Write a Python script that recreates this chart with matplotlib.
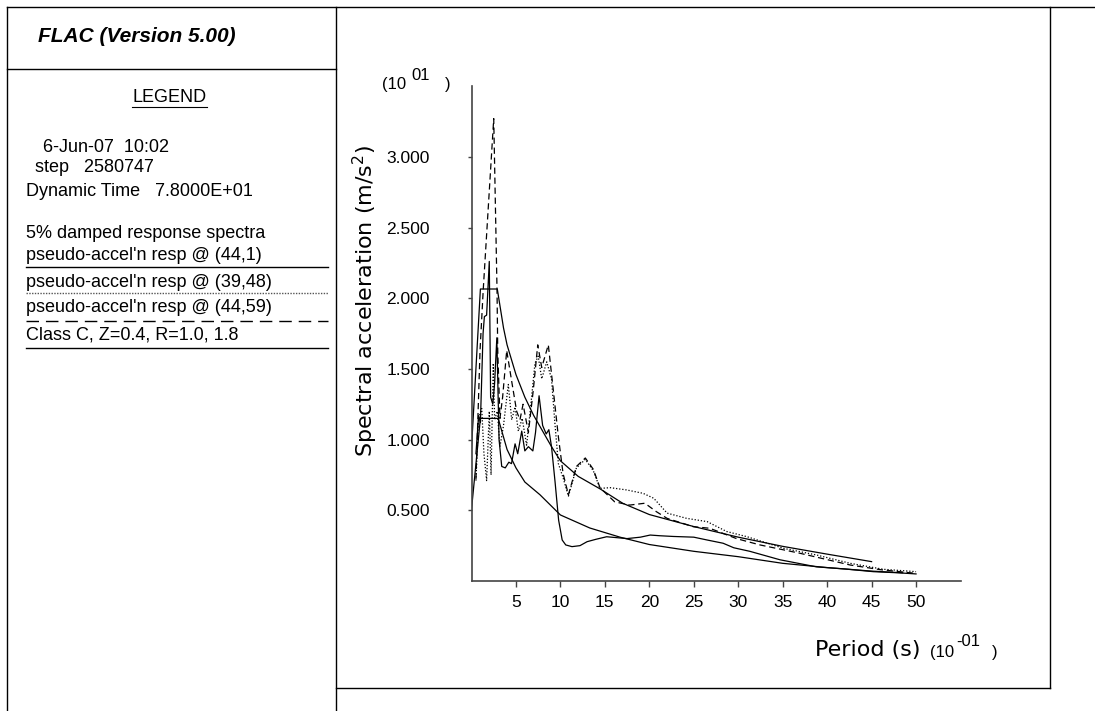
import numpy as np
import matplotlib
matplotlib.use("Agg")
import matplotlib.pyplot as plt
from matplotlib.lines import Line2D

W, H = 1095, 711

# ---- data (period in 1e-1 s, acceleration in 1e1 m/s^2) ----
# design spectra, Class C, Z=0.4
des_hi_x = [0, 1.0, 2.9, 3.6, 4.0, 5.0, 6.0, 7.0, 8.0, 9.0, 10.0, 12.0, 14.5, 17.0, 20.0, 25.0, 30.0, 35.0, 40.0, 45.0]
des_hi_y = [0.94, 2.065, 2.065, 1.79, 1.67, 1.46, 1.30, 1.17, 1.06, 0.95, 0.85, 0.74, 0.65, 0.55, 0.47, 0.385, 0.31, 0.245, 0.19, 0.137]
des_lo_x = [0, 1.0, 3.0, 4.0, 5.0, 6.0, 7.7, 10.0, 13.3, 16.7, 20.0, 25.0, 30.0, 35.0, 40.0, 45.0, 48.5]
des_lo_y = [0.507, 1.15, 1.15, 0.93, 0.80, 0.70, 0.61, 0.467, 0.375, 0.31, 0.258, 0.21, 0.172, 0.125, 0.095, 0.07, 0.058]

# pseudo-accel'n resp @ (44,1)
r1_x = [0.5, 0.8, 1.0, 1.3, 1.45, 1.7, 1.85, 2.0, 2.15, 2.4, 2.6, 2.85, 3.1, 3.4, 3.8, 4.2, 4.5, 4.9, 5.2,
        5.65, 6.0, 6.4, 6.9, 7.2, 7.6, 8.0, 8.4, 8.7, 9.0, 9.4, 9.8, 10.2, 10.6, 11.3, 12.2, 13.0, 14.0,
        15.2, 17.5, 19.0, 20.1, 21.2, 22.7, 25.0, 26.5, 28.3, 29.5, 31.3, 34.7, 38.8, 42.0, 45.2, 48.0, 50.0]
r1_y = [0.9, 1.17, 1.12, 1.75, 1.87, 1.88, 2.07, 2.26, 1.3, 1.25, 1.4, 1.72, 1.0, 0.81, 0.80, 0.84, 0.83, 0.97, 0.9,
        1.06, 0.92, 0.95, 0.92, 1.05, 1.31, 1.1, 1.04, 1.07, 0.95, 0.7, 0.43, 0.29, 0.255, 0.243, 0.25, 0.278, 0.295,
        0.313, 0.30, 0.31, 0.325, 0.32, 0.315, 0.31, 0.29, 0.267, 0.235, 0.21, 0.15, 0.10, 0.085, 0.066, 0.058, 0.05]

# pseudo-accel'n resp @ (39,48)
r2_x = [0.5, 0.8, 1.15, 1.4, 1.7, 2.0, 2.2, 2.45, 2.6, 2.9, 3.2, 3.6, 4.14, 4.52, 4.9, 5.27, 5.7, 6.2, 6.6,
        7.14, 7.5, 7.9, 8.46, 9.0, 9.4, 9.77, 10.3, 10.9, 11.8, 12.8, 13.7, 14.45, 15.6, 17.45, 19.3, 20.5,
        22.0, 24.2, 26.5, 28.7, 31.0, 35.1, 38.8, 42.6, 46.3, 50.0]
r2_y = [0.71, 1.15, 1.22, 0.9, 0.71, 1.2, 0.75, 1.54, 1.14, 1.2, 0.95, 1.1, 1.39, 1.14, 1.23, 1.06, 1.15, 0.96, 1.2,
        1.54, 1.59, 1.43, 1.55, 1.43, 1.1, 0.83, 0.73, 0.6, 0.8, 0.86, 0.78, 0.655, 0.66, 0.644, 0.62, 0.585,
        0.48, 0.443, 0.42, 0.35, 0.313, 0.231, 0.184, 0.125, 0.083, 0.066]

# pseudo-accel'n resp @ (44,59)
r3_x = [0.5, 0.96, 1.32, 2.5, 2.87, 2.95, 3.2, 3.5, 3.96, 4.5, 5.08, 5.45, 5.8, 6.4, 6.95, 7.45, 7.9, 8.64,
        9.2, 9.77, 10.3, 10.9, 11.8, 12.8, 13.7, 14.45, 16.1, 17.8, 19.5, 20.8, 22.0, 24.95, 26.8, 29.8,
        32.45, 36.95, 42.6, 46.0, 50.0]
r3_y = [0.72, 1.63, 2.06, 3.27, 2.06, 1.63, 1.15, 1.3, 1.63, 1.42, 1.2, 1.14, 1.25, 1.05, 1.35, 1.67, 1.51, 1.67,
        1.35, 1.02, 0.76, 0.61, 0.81, 0.87, 0.79, 0.66, 0.56, 0.537, 0.55, 0.49, 0.443, 0.384, 0.373, 0.30,
        0.255, 0.196, 0.113, 0.08, 0.054]

legend_head = ["6-Jun-07  10:02", "step   2580747", "Dynamic Time   7.8000E+01", "5% damped response spectra"]
legend_rows = ["pseudo-accel'n resp @ (44,1)", "pseudo-accel'n resp @ (39,48)",
               "pseudo-accel'n resp @ (44,59)", "Class C, Z=0.4, R=1.0, 1.8"]

x_ticks = [5, 10, 15, 20, 25, 30, 35, 40, 45, 50]
y_ticks = [0.5, 1.0, 1.5, 2.0, 2.5, 3.0]

ARIAL = "Liberation Sans"
VERD = "DejaVu Sans"


def fx(x):
    return x / W


def fy(y):
    return 1 - y / H


def hline(fig, x0, x1, y, **kw):
    fig.add_artist(Line2D([fx(x0), fx(x1)], [fy(y), fy(y)], transform=fig.transFigure, color="black", **kw))


def vline(fig, x, y0, y1, **kw):
    fig.add_artist(Line2D([fx(x), fx(x)], [fy(y0), fy(y1)], transform=fig.transFigure, color="black", **kw))


fig = plt.figure(figsize=(W / 100, H / 100), dpi=100)

# frames
hline(fig, 7, W, 7, lw=1.0)
vline(fig, 7, 7, H, lw=1.0)
vline(fig, 336, 7, H, lw=1.0)
hline(fig, 7, 336, 69, lw=1.0)
vline(fig, 1050, 7, 688, lw=1.0)
hline(fig, 336, 1050, 688, lw=1.0)

# left panel
fig.text(fx(38), fy(36), "FLAC (Version 5.00)", family=ARIAL, fontsize=15, fontweight="bold",
         fontstyle="italic", ha="left", va="center")
fig.text(fx(170), fy(98), "LEGEND", family=ARIAL, fontsize=13, ha="center", va="center")
hline(fig, 132, 207, 107, lw=0.8)

fig.text(fx(43), fy(147), legend_head[0], family=ARIAL, fontsize=13, va="center")
fig.text(fx(35), fy(168), legend_head[1], family=ARIAL, fontsize=13, va="center")
fig.text(fx(26), fy(192), legend_head[2], family=ARIAL, fontsize=13, va="center")
fig.text(fx(26), fy(234), legend_head[3], family=ARIAL, fontsize=13, va="center")

row_y = [256, 282, 307, 335]
line_y = [267, 293, 321, 348]
styles = [dict(ls="-"), dict(ls=(0, (1, 1)), color="#555555"), dict(ls=(0, (9, 5))), dict(ls="-")]
for lab, ty, ly, st in zip(legend_rows, row_y, line_y, styles):
    fig.text(fx(26), fy(ty), lab, family=ARIAL, fontsize=13, va="center")
    kw = dict(lw=1.0)
    kw.update(st)
    col = kw.pop("color", "black")
    fig.add_artist(Line2D([fx(26), fx(328)], [fy(ly), fy(ly)], transform=fig.transFigure, color=col, **kw))

# plot
ax = fig.add_axes([fx(471.5), fy(581), 489 / W, 494.9 / H])
lw = 0.9
ax.plot(des_hi_x, des_hi_y, color="black", lw=lw)
ax.plot(des_lo_x, des_lo_y, color="black", lw=lw)
ax.plot(r1_x, r1_y, color="black", lw=lw)
ax.plot(r2_x, r2_y, color="black", lw=lw, ls=(0, (1, 1.5)))
ax.plot(r3_x, r3_y, color="black", lw=lw, ls=(0, (5, 3)))

ax.set_xlim(0, 55)
ax.set_ylim(0, 3.5)
for s in ["top", "right"]:
    ax.spines[s].set_visible(False)
for s in ["left", "bottom"]:
    ax.spines[s].set_color("#444444")
    ax.spines[s].set_linewidth(1.2)
ax.set_xticks(x_ticks)
ax.set_xticklabels([str(t) for t in x_ticks], family=ARIAL, fontsize=12.5)
ax.set_yticks(y_ticks)
ax.set_yticklabels(["%.3f" % t for t in y_ticks], family=ARIAL, fontsize=12.5)
ax.tick_params(axis="x", direction="out", length=4, width=1, pad=6, color="#444444")
ax.tick_params(axis="y", direction="out", length=3, width=1, pad=27, color="#444444")

# axis titles and exponents
fig.text(fx(365), fy(301), "Spectral acceleration (m/s$^2$)", family=VERD, fontsize=16, rotation=90,
         ha="center", va="center")
fig.text(fx(815), fy(650), "Period (s)", family=VERD, fontsize=16, ha="left", va="center")

fig.text(fx(382), fy(84), "(10", family=ARIAL, fontsize=12, ha="left", va="center")
fig.text(fx(411), fy(75), "01", family=ARIAL, fontsize=12, ha="left", va="center")
fig.text(fx(445), fy(84), ")", family=ARIAL, fontsize=12, ha="left", va="center")

fig.text(fx(930), fy(652), "(10", family=ARIAL, fontsize=12, ha="left", va="center")
fig.text(fx(956), fy(642), "-01", family=ARIAL, fontsize=12, ha="left", va="center")
fig.text(fx(992), fy(652), ")", family=ARIAL, fontsize=12, ha="left", va="center")

fig.savefig("out.png", dpi=100)
